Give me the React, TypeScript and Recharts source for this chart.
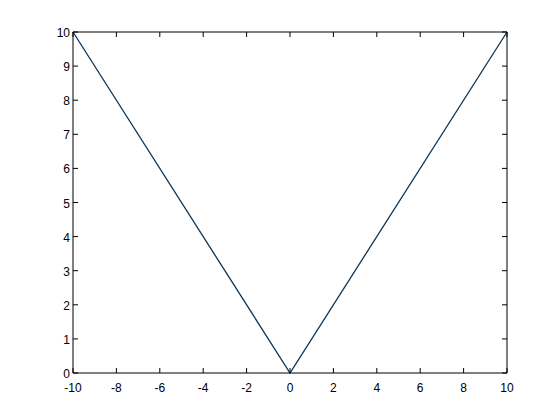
import React from 'react';
import { LineChart, Line, XAxis, YAxis } from 'recharts';

const xs = [-10, 0, 10];
const ys = [10, 0, 10];
const xTicks = [-10, -8, -6, -4, -2, 0, 2, 4, 6, 8, 10];
const yTicks = [0, 1, 2, 3, 4, 5, 6, 7, 8, 9, 10];

const data = xs.map((x, i) => ({ x, y: ys[i] }));

const font = 'Liberation Sans, Arial, sans-serif';
const TICK = 5;

// inward tick marks, MATLAB style
const BottomTick = (props: any) => {
  const { x, y, payload } = props;
  const ay = y - 1;
  return (
    <g>
      <line x1={x} x2={x} y1={ay} y2={ay - TICK} stroke="#000" />
      <text x={x} y={ay + 19} textAnchor="middle" fill="#000" fontSize={12} fontFamily={font}>
        {payload.value}
      </text>
    </g>
  );
};

const TopTick = (props: any) => {
  const { x, y } = props;
  const ay = y + 1;
  return <line x1={x} x2={x} y1={ay} y2={ay + TICK} stroke="#000" />;
};

const LeftTick = (props: any) => {
  const { x, y, payload } = props;
  const ax = x + 1;
  return (
    <g>
      <line x1={ax} x2={ax + TICK} y1={y} y2={y} stroke="#000" />
      <text x={ax - 3} y={y + 5} textAnchor="end" fill="#000" fontSize={12} fontFamily={font}>
        {payload.value}
      </text>
    </g>
  );
};

const RightTick = (props: any) => {
  const { x, y } = props;
  const ax = x - 1;
  return <line x1={ax} x2={ax - TICK} y1={y} y2={y} stroke="#000" />;
};

const App = () => {
  return (
    <div style={{ position: 'absolute', left: 0, top: 0, width: 560, height: 420, background: '#fff' }}>
      <LineChart
        width={560}
        height={420}
        data={data}
        margin={{ top: 31, right: 52, bottom: 17, left: 0 }}
      >
        <XAxis xAxisId="b" dataKey="x" type="number" domain={[-10, 10]} ticks={xTicks}
          height={30} stroke="#000" tickLine={false} tickSize={0} tickMargin={1}
          tick={<BottomTick />} interval={0} />
        <XAxis xAxisId="t" dataKey="x" orientation="top" type="number" domain={[-10, 10]} ticks={xTicks}
          height={1} stroke="#000" tickLine={false} tickSize={0} tickMargin={1}
          tick={<TopTick />} interval={0} />
        <YAxis yAxisId="l" type="number" domain={[0, 10]} ticks={yTicks}
          width={73} stroke="#000" tickLine={false} tickSize={0} tickMargin={1}
          tick={<LeftTick />} interval={0} />
        <YAxis yAxisId="r" orientation="right" type="number" domain={[0, 10]} ticks={yTicks}
          width={1} stroke="#000" tickLine={false} tickSize={0} tickMargin={1}
          tick={<RightTick />} interval={0} />
        <Line xAxisId="t" yAxisId="r" dataKey="y" type="linear" stroke="none"
          dot={false} activeDot={false} isAnimationActive={false} />
        <Line xAxisId="b" yAxisId="l" dataKey="y" type="linear" stroke="#0c3456"
          strokeWidth={1.3} dot={false} isAnimationActive={false} />
      </LineChart>
    </div>
  );
};

export default App;
